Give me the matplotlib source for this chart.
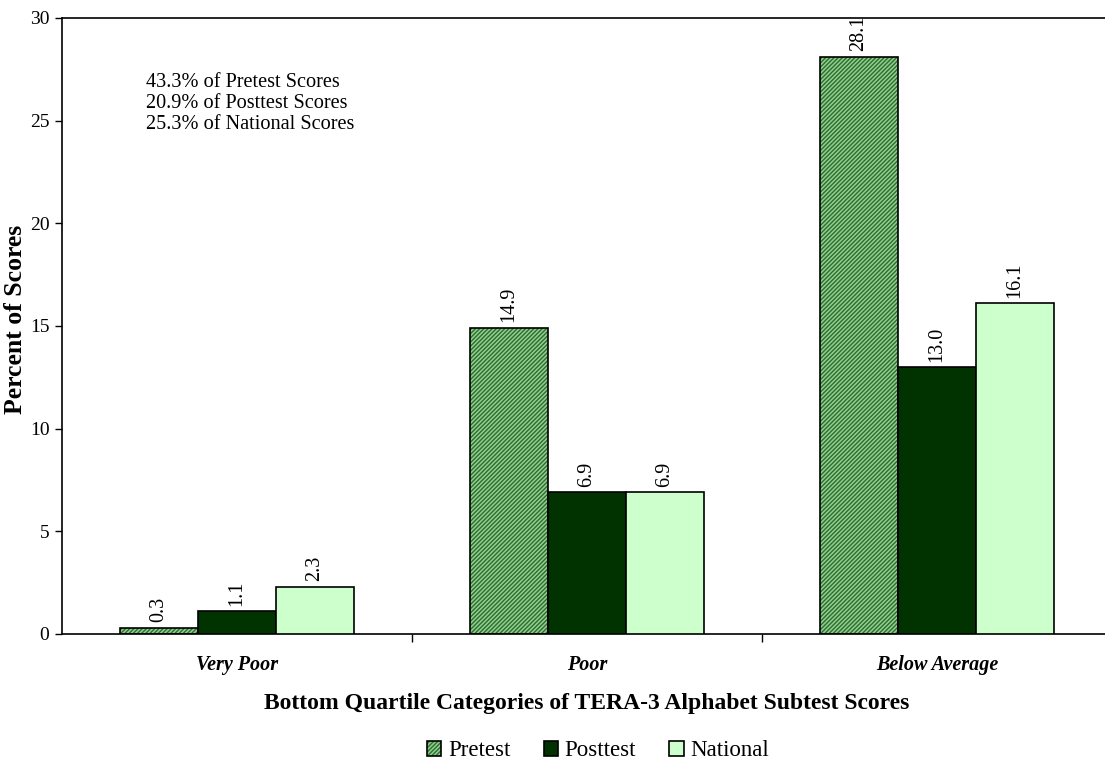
import numpy as np
import matplotlib
matplotlib.use("Agg")
import matplotlib.pyplot as plt
from matplotlib.patches import Patch

plt.rcParams["font.family"] = ["Liberation Serif", "DejaVu Serif"]
plt.rcParams["hatch.linewidth"] = 1.0

# DATA
categories = ["Very Poor", "Poor", "Below Average"]
series_names = ["Pretest", "Posttest", "National"]
pretest = [0.3, 14.9, 28.1]
posttest = [1.1, 6.9, 13.0]
national = [2.3, 6.9, 16.1]
note_lines = ["43.3% of Pretest Scores", "20.9% of Posttest Scores", "25.3% of National Scores"]

# STYLE
pre_face = "#8fd08f"
pre_hatch = "#2f6b2f"
post_color = "#003300"
nat_color = "#ccffcc"
bw = 0.223

fig = plt.figure(figsize=(11.05, 7.63), dpi=100)
ax = fig.add_axes([62 / 1105, 129 / 763, 1050 / 1105, 616 / 763])

x = np.arange(len(categories))
offsets = [-bw, 0, bw]

# pretest: hatched fill, then black outline on top
ax.bar(x + offsets[0], pretest, bw, color=pre_face, edgecolor=pre_hatch,
       hatch="////////", linewidth=0, zorder=2)
ax.bar(x + offsets[0], pretest, bw, fill=False, edgecolor="black", linewidth=1.2, zorder=3)
ax.bar(x + offsets[1], posttest, bw, color=post_color, edgecolor="black", linewidth=1.2, zorder=3)
ax.bar(x + offsets[2], national, bw, color=nat_color, edgecolor="black", linewidth=1.2, zorder=3)

for off, vals in zip(offsets, [pretest, posttest, national]):
    for xi, v in zip(x, vals):
        ax.annotate(f"{v:.1f}", (xi + off, v), xytext=(0, 4), textcoords="offset points",
                    rotation=90, ha="center", va="bottom", fontsize=14.5)

ax.set_xlim(-0.5, 2.5)
ax.set_ylim(0, 30)
ax.set_yticks(range(0, 31, 5))
ax.set_xticks([0.5, 1.5], minor=False)
ax.set_xticklabels([])
ax.tick_params(axis="x", length=6, width=1, direction="out")
ax.tick_params(axis="y", length=5, width=1, labelsize=14, pad=4)
for xi, c in zip(x, categories):
    ax.text(xi, -1.0, c, ha="center", va="top", fontsize=14.5, fontweight="bold", style="italic")

ax.spines["right"].set_visible(False)
for s in ["left", "top", "bottom"]:
    ax.spines[s].set_linewidth(1.2)

ax.set_ylabel("Percent of Scores", fontsize=18.5, fontweight="bold")
ax.yaxis.set_label_coords(-0.033, 0.51)
fig.text(587 / 1105, 1 - 703 / 763, "Bottom Quartile Categories of TERA-3 Alphabet Subtest Scores",
         ha="center", va="center", fontsize=17, fontweight="bold")

ax.text(0.08, 0.91, "\n".join(note_lines), transform=ax.transAxes, ha="left", va="top",
        fontsize=14.6, linespacing=1.12)

# legend: hatched swatch gets a separate black outline laid over it
handles = [
    (Patch(facecolor=pre_face, edgecolor=pre_hatch, hatch="////////", linewidth=0),
     Patch(fill=False, edgecolor="black", linewidth=1.2)),
    Patch(facecolor=post_color, edgecolor="black", linewidth=1.2),
    Patch(facecolor=nat_color, edgecolor="black", linewidth=1.2),
]
leg = fig.legend(handles, series_names, loc="center", bbox_to_anchor=(598 / 1105, 1 - 751 / 763),
                 ncol=3, frameon=False, fontsize=16.5, handlelength=0.62, handleheight=0.62,
                 handletextpad=0.3, columnspacing=1.45)

plt.savefig("out.png", dpi=100)
